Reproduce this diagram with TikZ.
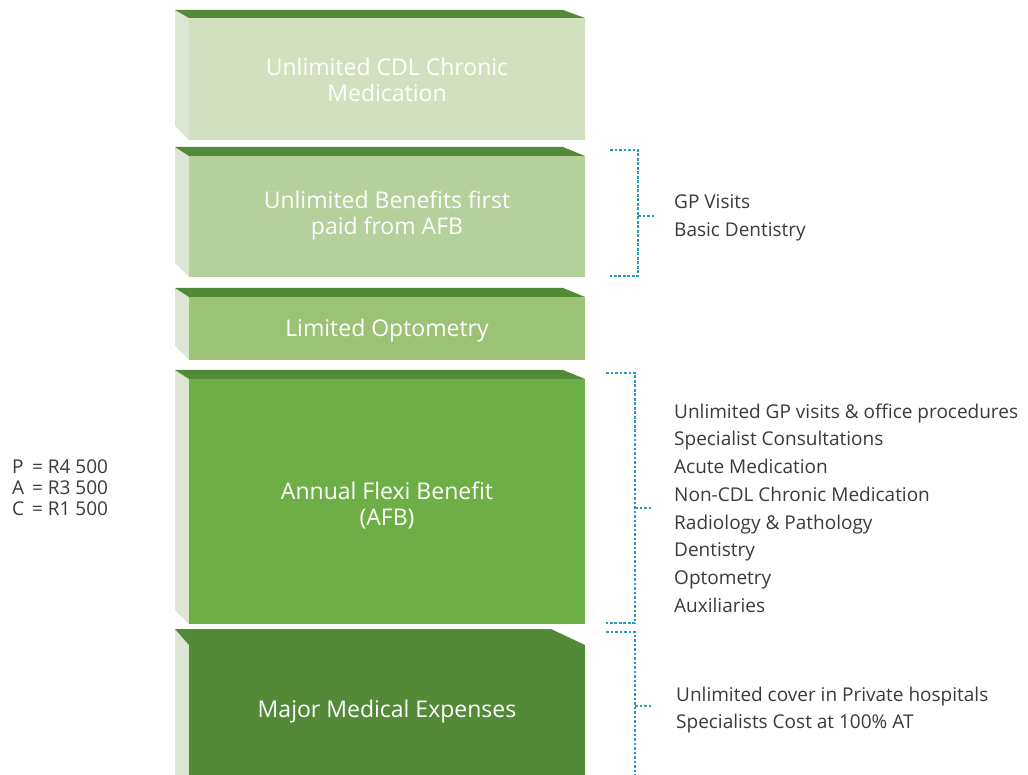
\documentclass[tikz,border=0pt]{standalone}
\usepackage{fontspec}
\setmainfont{Open Sans}
\definecolor{topgreen}{RGB}{82,138,55}
\definecolor{sidegrey}{RGB}{221,230,210}
\definecolor{chronicgreen}{RGB}{210,224,192}
\definecolor{benefitgreen}{RGB}{181,208,154}
\definecolor{optogreen}{RGB}{156,194,117}
\definecolor{flexigreen}{RGB}{109,175,70}
\definecolor{bracketblue}{RGB}{42,157,181}
\definecolor{listgrey}{RGB}{58,58,58}
\begin{document}
\begin{tikzpicture}[x=1pt,y=-1pt,
    boxtext/.style={text=white,align=center,font=\fontsize{23}{26}\selectfont},
    listtext/.style={text=listgrey,align=left,anchor=west,inner sep=0pt,font=\fontsize{19}{27.7}\selectfont},
    bracket/.style={bracketblue,line width=2.7pt,dash pattern=on 2.7pt off 1.8pt}]
    \useasboundingbox (0,0) rectangle (1028,775);
    % top / depth of top face / bottom / corner / colour
    \foreach \t/\d/\b/\c/\col in {10/8/140/563/chronicgreen, 147/9/277/563/benefitgreen, 288/9/360/563/optogreen, 370/9/624/563/flexigreen, 629/16/800/551/topgreen}
        {
            \fill[sidegrey] (175,\t) -- (189,{\t+\d}) -- (189,\b) -- (175,{\b-14}) -- cycle;
            \fill[topgreen] (175,\t) -- (\c,\t) -- (585,{\t+\d}) -- (189,{\t+\d}) -- cycle;
            \fill[\col] (189,{\t+\d}) rectangle (585,\b);
        }
    \node[boxtext] (chronic) at (387,80) {Unlimited CDL Chronic\\Medication};
    \node[boxtext] (benefits) at (387,215) {Unlimited Benefits first\\paid from AFB};
    \node[boxtext] (opto) at (387,331) {Limited Optometry};
    \node[boxtext] (afb) at (387,506) {Annual Flexi Benefit\\(AFB)};
    \node[boxtext] (major) at (387,712) {Major Medical Expenses};
    \node[listtext,font=\fontsize{19}{21}\selectfont] (amounts) at (12,488)
        {\makebox[1.05em][l]{P}= R4 500\\\makebox[1.05em][l]{A}= R3 500\\\makebox[1.05em][l]{C}= R1 500};
    \node[listtext] (gp) at (674,218) {GP Visits\\Basic Dentistry};
    \node[listtext] (flexi) at (674,508) {Unlimited GP visits \& office procedures\\Specialist Consultations\\Acute Medication\\Non-CDL Chronic Medication\\Radiology \& Pathology\\Dentistry\\Optometry\\Auxiliaries};
    \node[listtext] (hospital) at (676,710) {Unlimited cover in Private hospitals\\Specialists Cost at 100\% AT};
    % brackets
    \coordinate (gp top) at (610,150);
    \coordinate (gp bottom) at (610,276);
    \coordinate (gp tick) at (638,216);
    \coordinate (flexi top) at (606,373);
    \coordinate (flexi bottom) at (606,623);
    \coordinate (flexi tick) at (635,508);
    \coordinate (hospital top) at (606,632);
    \coordinate (hospital end) at (635,780);
    \coordinate (hospital tick) at (635,706);
    \draw[bracket] (gp top) -- ++(28,0) |- (gp bottom);
    \draw[bracket] (gp tick) -- ++(18,0);
    \draw[bracket] (flexi top) -- ++(29,0) |- (flexi bottom);
    \draw[bracket] (flexi tick) -- ++(17,0);
    \draw[bracket] (hospital top) -| (hospital end);
    \draw[bracket] (hospital tick) -- ++(17,0);
\end{tikzpicture}
\end{document}
